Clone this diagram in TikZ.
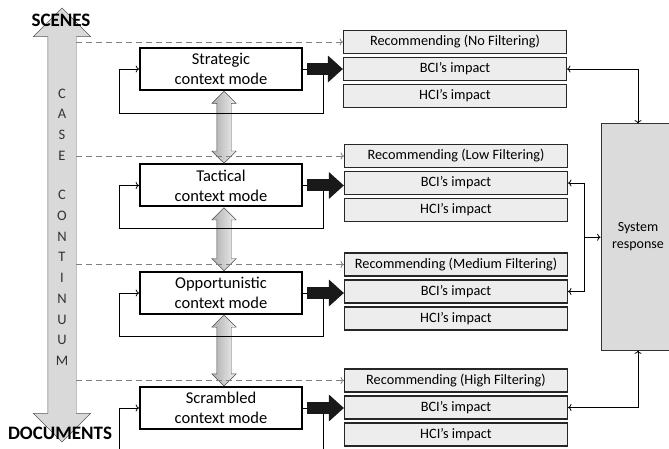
\documentclass[tikz,border=0pt]{standalone}
\usepackage{fontspec}
\setmainfont{Carlito}
\usetikzlibrary{arrows.meta,shapes.arrows,calc}

\tikzset{
  modebox/.style={draw, line width=2pt, fill=white, minimum width=162pt,
    minimum height=42pt, align=center, font=\fontsize{16.5}{20}\selectfont},
  infobox/.style={draw=black!85, line width=1.2pt, fill=gray!14, minimum width=223pt,
    minimum height=23pt, inner sep=0pt, font=\fontsize{14.3}{17}\selectfont},
  sysbox/.style={draw=black!80, line width=1pt, fill=gray!28, minimum width=74pt,
    minimum height=226pt, align=center, font=\fontsize{14}{17}\selectfont},
  bigarrow/.style={double arrow, draw=gray!70!black, fill=gray!30, rotate=90,
    minimum height=434pt, inner xsep=0pt, inner ysep=14pt, double arrow head extend=14.5pt},
  linkarrow/.style={double arrow, draw=gray!60!black, left color=gray!65, right color=gray!12,
    rotate=90, inner xsep=0pt, inner ysep=7pt, double arrow head extend=5pt},
  blackarrow/.style={line width=12pt, black!90, -{Triangle[length=15pt,width=26pt]}},
  backline/.style={line width=0.8pt, ->},
  dashlink/.style={gray, line width=0.8pt, dash pattern=on 6pt off 4pt, ->},
  sysline/.style={line width=0.8pt, <->}
}

\begin{document}
\begin{tikzpicture}[x=1pt,y=-1pt]
  \path[use as bounding box, clip] (0,0) rectangle (669,449);

  % Case continuum
  \node[bigarrow] (cont) at (62,225) {};
  \coordinate (edge) at (76,0);
  \node[font=\fontsize{14.5}{20.7}\selectfont, text=black!80, align=center] (case) at (62,227)
    {C\\A\\S\\E\\[19pt]C\\O\\N\\T\\I\\N\\U\\U\\M};
  \node[font=\bfseries\fontsize{19}{20}\selectfont] (scenes) at (61,20) {SCENES};
  \node[font=\bfseries\fontsize{19}{20}\selectfont] (docs) at (60,433) {DOCUMENTS};

  % Context modes
  \node[modebox] (strat) at (221,69) {Strategic\\context mode};
  \node[modebox] (tact) at (221,185.5) {Tactical\\context mode};
  \node[modebox] (opp) at (221,293) {Opportunistic\\context mode};
  \node[modebox] (scram) at (221,408) {Scrambled\\context mode};

  % Outputs
  \node[infobox] (rec1) at (455,42) {Recommending (No Filtering)};
  \node[infobox] (bci1) at (455,69) {BCI’s impact};
  \node[infobox] (hci1) at (455,96) {HCI’s impact};
  \node[infobox] (rec2) at (456,156) {Recommending (Low Filtering)};
  \node[infobox] (bci2) at (456,183) {BCI’s impact};
  \node[infobox] (hci2) at (456,210) {HCI’s impact};
  \node[infobox] (rec3) at (456,264.5) {Recommending (Medium Filtering)};
  \node[infobox] (bci3) at (456,291.5) {BCI’s impact};
  \node[infobox] (hci3) at (456,318.5) {HCI’s impact};
  \node[infobox] (rec4) at (456,380.5) {Recommending (High Filtering)};
  \node[infobox] (bci4) at (456,407.5) {BCI’s impact};
  \node[infobox] (hci4) at (456,434.5) {HCI’s impact};

  % System response
  \node[sysbox] (sys) at (638,237) {System\\response};

  % Mode transitions
  \node[linkarrow, minimum height=72pt] (ab) at ($(strat.south)!0.5!(tact.north)+(3,0)$) {};
  \node[linkarrow, minimum height=63pt] (bc) at ($(tact.south)!0.5!(opp.north)+(3,0)$) {};
  \node[linkarrow, minimum height=71pt] (cd) at ($(opp.south)!0.5!(scram.north)+(3,0)$) {};

  % Dashed links
  \draw[dashlink] (edge |- rec1.west) -- (rec1.west);
  \draw[dashlink] (edge |- rec2.west) -- (rec2.west);
  \draw[dashlink] (edge |- rec3.west) -- (rec3.west);
  \draw[dashlink] (edge |- rec4.west) -- (rec4.west);

  % Feedback loops
  \draw[backline] (strat.east) -- ++(20,0) -- ++(0,44) -| ([xshift=-20]strat.west) -- (strat.west);
  \draw[backline] (tact.east) -- ++(20,0) -- ++(0,43) -| ([xshift=-20]tact.west) -- (tact.west);
  \draw[backline] (opp.east) -- ++(20,0) -- ++(0,43) -| ([xshift=-20]opp.west) -- (opp.west);
  \draw[backline] (scram.east) -- ++(20,0) -- ++(0,60) -| ([xshift=-20]scram.west) -- (scram.west);

  % Impact arrows
  \draw[blackarrow] ([xshift=4]strat.east) -- (strat.east -| bci1.west);
  \draw[blackarrow] ([xshift=4]tact.east) -- (tact.east -| bci2.west);
  \draw[blackarrow] ([xshift=4]opp.east) -- (opp.east -| bci3.west);
  \draw[blackarrow] ([xshift=4]scram.east) -- (scram.east -| bci4.west);

  % Response links
  \coordinate (join) at ($(bci2.east)!0.5!(bci3.east)+(16,0)$);
  \draw[sysline] (bci1.east) -| (sys.north);
  \draw[sysline] (bci2.east) -| (join) |- (bci3.east);
  \draw[line width=0.8pt, ->] (join) -- (join -| sys.west);
  \draw[sysline] (bci4.east) -| (sys.south);
\end{tikzpicture}
\end{document}
